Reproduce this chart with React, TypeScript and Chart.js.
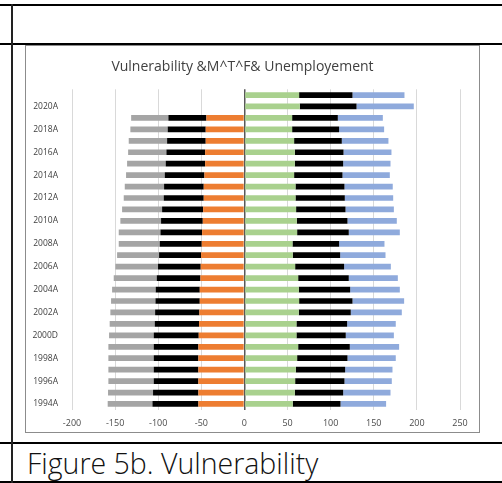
import React, { useEffect, useRef } from "react";
import { Chart, registerables } from "chart.js";

Chart.register(...registerables);

const titleText = "Vulnerability &M^T^F& Unemployement";
const captionText = "Figure 5b. Vulnerability";

const categories = [
  "1994A", "1995A", "1996A", "1997A", "1998A", "1999A", "2000D", "2001A", "2002A", "2003A",
  "2004A", "2005A", "2006A", "2007A", "2008A", "2009A", "2010A", "2011A", "2012A", "2013A",
  "2014A", "2015A", "2016A", "2017A", "2018A", "2019A", "2020A", "2021A",
];

const xTicks = [-200, -150, -100, -50, 0, 50, 100, 150, 200, 250];

const orangeNeg = [
  -53.4, -53.4, -53.4, -53.4, -53.4, -53.4, -53.0, -52.6, -52.2, -51.8,
  -51.8, -51.0, -50.7, -50.3, -49.5, -49.1, -48.3, -47.9, -47.2, -47.2,
  -46.4, -45.6, -45.6, -44.9, -44.9, -44.1, null, null,
];
const blackNeg = [
  -53.3, -52.6, -51.8, -51.8, -51.8, -51.8, -52.2, -51.4, -51.4, -51.4,
  -51.1, -50.7, -49.5, -48.7, -48.7, -48.3, -48.4, -47.6, -46.4, -46.0,
  -46.0, -45.7, -44.9, -44.8, -44.1, -44.1, null, null,
];
const grayNeg = [
  -51.9, -52.2, -52.6, -52.6, -52.6, -52.6, -51.8, -52.3, -51.9, -51.5,
  -50.6, -49.9, -49.5, -48.7, -47.6, -48.4, -47.2, -46.4, -46.4, -45.6,
  -44.9, -44.8, -44.4, -44.5, -43.3, -43.2, null, null,
];
const greenPos = [
  56.0, 58.4, 58.8, 59.6, 61.1, 62.3, 60.3, 60.3, 63.0, 63.4,
  63.0, 62.3, 58.8, 56.0, 55.7, 61.1, 60.7, 59.9, 59.2, 59.2,
  57.6, 58.4, 58.4, 57.6, 55.3, 55.3, 64.2, 63.4,
];
const blackPos = [
  55.4, 56.1, 57.2, 57.2, 58.4, 59.9, 57.2, 58.8, 60.3, 61.9,
  59.6, 58.7, 56.8, 55.0, 54.1, 59.9, 58.8, 57.3, 57.2, 56.8,
  56.1, 56.1, 56.5, 55.3, 54.5, 53.0, 65.8, 61.9,
];
const bluePos = [
  52.9, 54.9, 54.9, 54.9, 56.0, 57.2, 55.8, 56.4, 59.2, 59.9,
  57.6, 56.9, 54.2, 52.6, 52.6, 59.2, 57.2, 56.1, 56.1, 56.0,
  54.9, 54.9, 55.6, 54.1, 52.2, 52.2, 66.4, 60.3,
];

const FONT = "'Open Sans', 'Liberation Sans', sans-serif";

function ChartBox() {
  const ref = useRef<HTMLCanvasElement | null>(null);
  useEffect(() => {
    if (!ref.current) return;
    const mk = (label: string, data: (number | null)[], color: string) => ({
      label,
      data,
      backgroundColor: color,
      borderWidth: 0,
      stack: "s",
      barPercentage: 0.5,
      categoryPercentage: 1,
    });
    const chart = new Chart(ref.current, {
      type: "bar",
      data: {
        labels: categories,
        datasets: [
          mk("orangeNeg", orangeNeg, "#ED7D31"),
          mk("blackNeg", blackNeg, "#000000"),
          mk("grayNeg", grayNeg, "#A5A5A5"),
          mk("greenPos", greenPos, "#A9D18E"),
          mk("blackPos", blackPos, "#000000"),
          mk("bluePos", bluePos, "#8FAADC"),
        ],
      },
      options: {
        indexAxis: "y",
        responsive: false,
        animation: false,
        devicePixelRatio: 1,
        layout: { padding: { left: 0, right: 20, top: 0, bottom: 0 } },
        plugins: {
          legend: { display: false },
          tooltip: { enabled: false },
          title: {
            display: true,
            text: titleText,
            color: "#404040",
            font: { family: FONT, size: 14, weight: "normal" },
            padding: { top: 14, bottom: 13.5 },
          },
        },
        scales: {
          x: {
            type: "linear",
            stacked: true,
            min: xTicks[0],
            max: xTicks[xTicks.length - 1],
            afterBuildTicks: (s: any) => {
              s.ticks = xTicks.map((v) => ({ value: v }));
            },
            ticks: {
              color: "#4a4a4a",
              font: { family: FONT, size: 9 },
              padding: 8,
              maxRotation: 0,
            },
            grid: {
              drawTicks: false,
              color: (c: any) => (c.tick && c.tick.value === 0 ? "#595959" : "#D9D9D9"),
              lineWidth: (c: any) => (c.tick && c.tick.value === 0 ? 1.5 : 1),
            },
            border: { display: false },
            afterFit: (s: any) => {
              s.height = 23.3;
            },
          },
          y: {
            type: "category",
            stacked: true,
            reverse: true,
            grid: { display: false, drawTicks: false },
            border: { display: false },
            ticks: {
              autoSkip: false,
              color: "#404040",
              font: { family: FONT, size: 8.5 },
              padding: 14,
              callback: (_v: any, i: number) => (i % 2 === 0 ? categories[i] : ""),
            },
            afterFit: (s: any) => {
              s.width = 47;
            },
          },
        },
      } as any,
    });
    return () => chart.destroy();
  }, []);
  return (
    <canvas
      ref={ref}
      width={455}
      height={388}
      style={{ position: "absolute", left: 25, top: 45, width: 455, height: 388 }}
    />
  );
}

export default function App() {
  const line = (style: React.CSSProperties) => (
    <div style={{ position: "absolute", background: "#000", ...style }} />
  );
  return (
    <div
      style={{
        position: "fixed",
        left: 0,
        top: 0,
        width: 502,
        height: 483,
        background: "#fff",
        overflow: "hidden",
      }}
    >
      <ChartBox />
      <div
        style={{
          position: "absolute",
          left: 25,
          top: 45,
          width: 455,
          height: 388,
          boxSizing: "border-box",
          border: "1px solid #8c8c8c",
          pointerEvents: "none",
        }}
      />
      {line({ left: 0, top: 4, width: 502, height: 2 })}
      {line({ left: 0, top: 43, width: 502, height: 2 })}
      {line({ left: 0, top: 442, width: 502, height: 2 })}
      {line({ left: 0, top: 481, width: 502, height: 2 })}
      {line({ left: 11, top: 4, width: 2, height: 479, background: "#222" })}
      <div
        style={{
          position: "absolute",
          left: 27,
          top: 449,
          fontFamily: FONT,
          fontSize: 28.5,
          fontWeight: 300,
          lineHeight: 1,
          color: "#111",
          whiteSpace: "nowrap",
        }}
      >
        {captionText}
      </div>
    </div>
  );
}
